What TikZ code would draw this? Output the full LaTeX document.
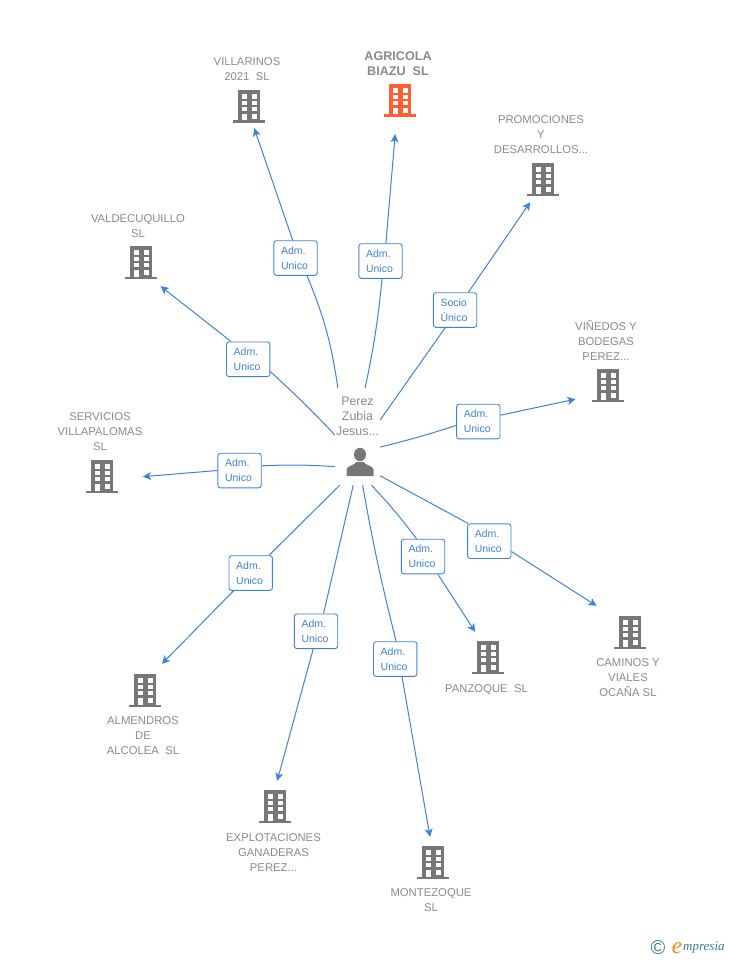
\documentclass[tikz,border=0pt]{standalone}
\usepackage{fontspec}
\setmainfont{Liberation Sans}
\newfontfamily\markfont{Liberation Serif}
\usetikzlibrary{arrows.meta}
\definecolor{linkblue}{HTML}{3F80E0}
\definecolor{icongray}{HTML}{777777}
\definecolor{textgray}{HTML}{8A8A8A}
\definecolor{iconred}{HTML}{FF5F30}
\definecolor{marktea}{HTML}{3B7A95}
\definecolor{markorange}{HTML}{F08A20}
\tikzset{x=1pt, y=-1pt,
bld/.style={ % Sets the properties for each company icon
rectangle, inner sep=0pt, minimum width=32pt, minimum height=36pt,
path picture={
\begin{scope}[shift={(path picture bounding box.center)}]
\fill[#1] (-11.3,-17) rectangle (11.3,14);
\fill[#1] (-16,13.5) rectangle (16,16.3);
\foreach \wy/\wh in {-12.7/4.7,-6.4/4.4,-0.3/4.3}{
\fill[white] (-6.8,\wy) rectangle +(5,\wh);
\fill[white] (2.5,\wy) rectangle +(5,\wh);
}
\fill[white] (-6.8,7) rectangle (-1.8,13.5);
\fill[white] (2.5,7) rectangle (7.5,12);
\end{scope}}},
bld/.default=icongray,
person/.style={ % Name and silhouette sit in one box
rectangle, inner sep=0pt, minimum width=45pt, minimum height=97pt,
path picture={
\begin{scope}[shift={(path picture bounding box.center)}]
\fill[icongray] (2.5,18) ellipse (6 and 6.7);
\fill[icongray] (-11,39.5) -- (-11,33) .. controls (-10.5,29) and (-3,29) .. (-1,25.5)
-- (6,25.5) .. controls (8,29) and (15.5,29) .. (16,33) -- (16,39.5) -- cycle;
\end{scope}}},
company/.style={ % Grey captions
align=center, inner sep=0pt, yshift=-0.7pt, text=textgray, font=\fontsize{11.3}{15}\selectfont},
role/.style={ % Boxes sitting on the connectors
draw=linkblue, fill=white, rounded corners=2.5pt, line width=0.9pt,
text width=29pt, align=left, inner xsep=7.2pt, inner ysep=0pt, minimum height=34.6pt,
text=linkblue, font=\fontsize{10.5}{15}\selectfont},
link/.style={draw=linkblue, line width=1pt},
tolink/.style={link, -{Stealth[length=8pt,width=8pt,inset=2pt]}, shorten >=#1}}

\begin{document}
\begin{tikzpicture}
\useasboundingbox (0,0) rectangle (728,960);
% centre
\node[person] (perez) at (357.5,436.5) {};
\node[company, font=\fontsize{12.4}{15}\selectfont] (perezname) at (357.5,415.5) {Perez\\Zubia\\Jesus...};
% companies
\node[bld] (villarinos) at (249,107) {};
\node[bld=iconred] (agricola) at (400,101) {};
\node[bld] (promociones) at (543,180) {};
\node[bld] (valdecuquillo) at (141,263) {};
\node[bld] (vinedos) at (608,386) {};
\node[bld] (servicios) at (102,477) {};
\node[bld] (almendros) at (145,691) {};
\node[bld] (explotaciones) at (275,807) {};
\node[bld] (montezoque) at (433,863) {};
\node[bld] (panzoque) at (488,658) {};
\node[bld] (caminos) at (630,633) {};
% captions
\node[company] (villarinostext) at (247,68.5) {VILLARINOS\\2021~ SL};
\node[company, font=\fontsize{12.6}{15}\selectfont\bfseries] (agricolatext) at (398,62.5) {AGRICOLA\\BIAZU~ SL};
\node[company] (promocionestext) at (541,134) {PROMOCIONES\\Y\\DESARROLLOS...};
\node[company] (valdecuquillotext) at (138,225.5) {VALDECUQUILLO\\SL};
\node[company] (vinedostext) at (606,340) {VIÑEDOS Y\\BODEGAS\\PEREZ...};
\node[company] (serviciostext) at (100,431) {SERVICIOS\\VILLAPALOMAS\\SL};
\node[company] (almendrostext) at (143,735) {ALMENDROS\\DE\\ALCOLEA~ SL};
\node[company] (explotacionestext) at (273.5,852) {EXPLOTACIONES\\GANADERAS\\PEREZ...};
\node[company] (montezoquetext) at (431,899.5) {MONTEZOQUE\\SL};
\node[company] (panzoquetext) at (486.5,688.5) {PANZOQUE~ SL};
\node[company] (caminostext) at (628,677) {CAMINOS Y\\VIALES\\OCAÑA SL};
% roles
\node[role] (rvillarinos) at (295.5,258) {Adm.\\Unico};
\node[role] (ragricola) at (380.5,261) {Adm.\\Unico};
\node[role] (rpromociones) at (455,310) {Socio\\Único};
\node[role] (rvaldecuquillo) at (248.2,359.3) {Adm.\\Unico};
\node[role] (rvinedos) at (478.3,421.5) {Adm.\\Unico};
\node[role] (rservicios) at (239.5,470.5) {Adm.\\Unico};
\node[role] (ralmendros) at (250.7,573) {Adm.\\Unico};
\node[role] (rexplotaciones) at (316,631.3) {Adm.\\Unico};
\node[role] (rmontezoque) at (395.2,659) {Adm.\\Unico};
\node[role] (rpanzoque) at (423,556.5) {Adm.\\Unico};
\node[role] (rcaminos) at (489.3,541.2) {Adm.\\Unico};
% connectors
\draw[link] (perez.112.9) to[bend right=7] (rvillarinos.-57.1);
\draw[link] (perez.81.2) to[bend right=3] (ragricola.-85);
\draw[link] (perez.36.3) -- (rpromociones.-119.5);
\draw[link] (perez.176) to[bend right=2] (rvaldecuquillo.-29.6);
\draw[link] (perez.-25) to[bend right=2] (rvinedos.-170.8);
\draw[link] (perez.-127.3) to[bend right=3] (rservicios.12.2);
\draw[link] (perez.-110.9) -- (ralmendros.44.5);
\draw[link] (perez.-95.3) -- (rexplotaciones.67);
\draw[link] (perez.-84.7) to[bend right=2] (rmontezoque.87.4);
\draw[link] (perez.-74.5) to[bend left=3] (rpanzoque.110);
\draw[link] (perez.-60.9) -- (rcaminos.140.7);
\draw[tolink=3.2pt] (rvillarinos.99.2) -- (villarinos.-77.5);
\draw[tolink=15.05pt] (ragricola.73.6) -- (agricola.-101.6);
\draw[tolink=4.85pt] (rpromociones.53.7) -- (promociones.-119.7);
\draw[tolink=8.1pt] (rvaldecuquillo.134.8) -- (valdecuquillo.-54.9);
\draw[tolink=16.7pt] (rvinedos.16.7) -- (vinedos.-149.2);
\draw[tolink=24.8pt] (rservicios.180) -- (servicios.-6);
\draw[tolink=12.6pt] (ralmendros.-134) -- (almendros.66.3);
\draw[tolink=8.3pt] (rexplotaciones.-99) -- (explotaciones.90.6);
\draw[tolink=8.1pt] (rmontezoque.-69) -- (montezoque.95);
\draw[tolink=9.5pt] (rpanzoque.-50) -- (panzoque.113.7);
\draw[tolink=20.5pt] (rcaminos.-25.8) -- (caminos.135);
% mark
\node[inner sep=0pt, text=marktea, font=\fontsize{20}{20}\selectfont] (markc) at (658,948) {©};
\node[inner sep=0pt, text=markorange, font=\fontsize{23}{23}\markfont\itshape] (marke) at (677,948) {e};
\node[inner sep=0pt, anchor=west, text=marktea, font=\fontsize{13}{13}\markfont\itshape] (markname) at (683,948) {mpresia};
\end{tikzpicture}
\end{document}
